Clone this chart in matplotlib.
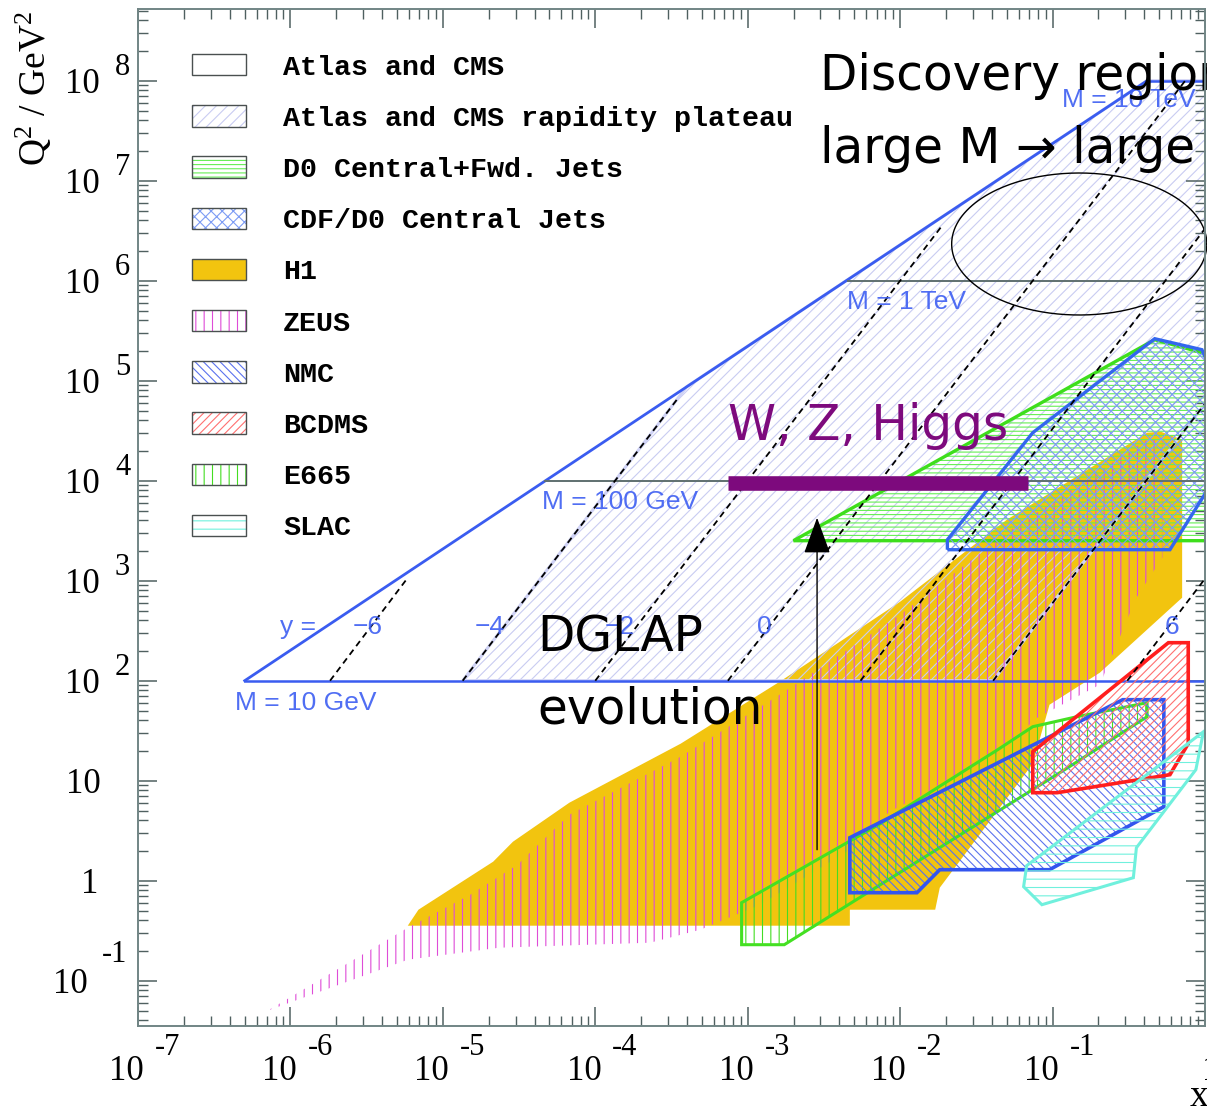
import numpy as np
import matplotlib
matplotlib.use("Agg")
import matplotlib.pyplot as plt
from matplotlib.patches import Polygon, Patch
from matplotlib.ticker import LogLocator, NullFormatter
from matplotlib.transforms import ScaledTranslation, blended_transform_factory

plt.rcParams["hatch.linewidth"] = 0.8
plt.rcParams["mathtext.fontset"] = "custom"
plt.rcParams["mathtext.rm"] = "Liberation Serif"
plt.rcParams["mathtext.it"] = "Liberation Serif:italic"

# ---------------- data (corner points as decade exponents: log10 x, log10 Q^2) -------------
H1_LX = [-5.23, -5.16, -4.67, -4.54, -4.17, -3.44, -2.79, -2.00, -1.30, -0.38, -0.29, -0.15,
         -0.15, -0.69, -1.02, -1.13, -1.74, -1.77, -2.33, -2.33]
H1_LQ = [-0.45, -0.29, 0.19, 0.39, 0.78, 1.37, 1.99, 2.79, 3.61, 4.48, 4.49, 4.41,
         2.83, 2.08, 1.76, 1.17, -0.07, -0.29, -0.29, -0.45]

ZEUS_LX = [-6.15, -5.23, -4.82, -4.51, -4.17, -3.44, -2.79, -2.00, -1.30, -0.38, -0.28, -0.28,
           -0.45, -0.69, -1.10, -1.41, -2.07, -2.33, -2.92, -3.31, -3.64, -4.63, -5.23]
ZEUS_LQ = [-1.30, -0.47, -0.14, 0.16, 0.66, 1.24, 1.86, 2.66, 3.48, 4.41, 4.41, 3.23,
           2.83, 1.96, 1.63, 1.21, 0.69, 0.31, -0.24, -0.49, -0.62, -0.67, -0.79]

E665_LX = [-3.04, -3.04, -2.13, -1.36, -1.13, -0.84, -0.38, -0.38, -0.90, -2.13, -2.76]
E665_LQ = [-0.64, -0.22, 0.57, 1.31, 1.54, 1.64, 1.78, 1.64, 1.13, -0.04, -0.64]

NMC_LX = [-2.33, -2.33, -1.89, -1.74, -1.02, -0.27, -0.27, -0.54]
NMC_LQ = [0.43, -0.12, -0.12, 0.11, 0.11, 0.74, 1.81, 1.81]

BCDMS_LX = [-1.13, -1.13, -0.97, -0.23, -0.11, -0.11, -0.24]
BCDMS_LQ = [1.29, 0.88, 0.88, 1.06, 1.37, 2.38, 2.38]

SLAC_LX = [-1.17, -1.19, -1.07, -0.47, -0.45, -0.06, -0.01]
SLAC_LQ = [0.15, -0.06, -0.24, 0.03, 0.33, 1.11, 1.49]

CDF_LX = [-1.69, -1.69, -1.13, -0.33, -0.02, 0.03, 0.03, -0.23]
CDF_LQ = [3.31, 3.41, 4.48, 5.42, 5.31, 5.13, 3.94, 3.31]

D0_LX = [-2.70, -0.33, 0.03, 0.03]
D0_LQ = [3.40, 5.41, 5.26, 3.40]

PLATEAU_LX = [-4.87, -3.40, -0.38, 0.05, 0.05, -1.39]
PLATEAU_LQ = [2.0, 4.94, 8.0, 8.0, 4.87, 2.0]

DIAG_LX = [-6.30, -0.38]
DIAG_LQ = [2.0, 8.0]

M_LQ = [2.0, 4.0, 6.0, 8.0]
M_LX0 = [-6.30, -4.33, -2.34, -0.38]
M_LABELS = ["M = 10 GeV", "M = 100 GeV", "M = 1 TeV", "M = 10 TeV"]
M_LABEL_LX = [-5.90, -3.84, -1.96, -0.50]
M_LABEL_LQ = [1.78, 3.79, 5.79, 7.81]

RAP_VALUES = ["\u22126", "\u22124", "\u22122", "0", "2", "4", "6"]
RAP_LX0 = [-5.74, -4.87, -4.00, -3.13, -2.26, -1.39, -0.51]
RAP_LX1 = [-5.23, -3.46, -1.72, -0.13, 0.0, 0.0, 0.0]
RAP_LQ1 = [3.03, 4.82, 6.56, 8.0, 6.52, 4.77, 3.02]
RAP_LABEL_LX = [-5.49, -4.69, -3.84, -2.89, -2.01, -1.12, -0.215]
RAP_LABEL_LQ = 2.54

WZH_LX = [-3.13, -1.16]
WZH_LQ = 3.98
ARROW_LX = -2.545
ARROW_LQ = [0.31, 3.63]
ELLIPSE_CENTER = (-0.825, 6.367)
ELLIPSE_SEMI = (0.837, 0.71)

X_DECADES = [-7, -6, -5, -4, -3, -2, -1]
Y_DECADES = [-1, 0, 1, 2, 3, 4, 5, 6, 7, 8]

LEGEND_LABELS = ["Atlas and CMS", "Atlas and CMS rapidity plateau", "D0 Central+Fwd. Jets",
                 "CDF/D0 Central Jets", "H1", "ZEUS", "NMC", "BCDMS", "E665", "SLAC"]

# ---------------- styles ----------------
BLUE = "#3a5cf0"
GREEN = "#3ede1c"
PLAT_C = "#c9ccf2"
ZEUS_C = "#de4cd8"
H1_C = "#f2c40f"
CDF_H = "#7d9cf4"
# label: (face, hatch colour, hatch, alpha)
LEGEND_STYLE = [
    ("white", "white", None, 1.0),
    ("white", PLAT_C, "///", 1.0),
    ("white", "#66ee55", "----", 1.0),
    ("white", CDF_H, "xxx", 1.0),
    (H1_C, H1_C, None, 1.0),
    ("white", ZEUS_C, "||", 1.0),
    ("white", "#5a72ee", "\\\\\\\\", 1.0),
    ("white", "#ff7070", "////", 1.0),
    ("white", "#44dd22", "||", 1.0),
    ("white", "#70f0dd", "--", 1.0),
]

W, H = 1207, 1110
fig = plt.figure(figsize=(W / 100, H / 100), dpi=100)
ax = fig.add_axes([138 / W, 1 - 1026 / H, (1205 - 138) / W, (1026 - 9) / H])
ax.set_xscale("log")
ax.set_yscale("log")
ax.set_xlim(1e-7, 1)
ax.set_ylim(10 ** -1.453, 10 ** 8.717)


def pts(lx, lq):
    return np.column_stack([10.0 ** np.asarray(lx, float), 10.0 ** np.asarray(lq, float)])


def region(lx, lq, face, hcol, hatch, edge=None, lw=2.0, z=2, alpha=1.0):
    xy = pts(lx, lq)
    ax.add_patch(Polygon(xy, closed=True, facecolor=face, edgecolor=hcol, hatch=hatch,
                         linewidth=0, zorder=z, alpha=alpha))
    if edge is not None:
        ax.add_patch(Polygon(xy, closed=True, facecolor="none", edgecolor=edge,
                             linewidth=lw, zorder=z + 0.05))


# H1 and ZEUS
region(H1_LX, H1_LQ, H1_C, H1_C, None, z=1)
# rapidity plateau (hatched, lavender edges)
region(PLATEAU_LX, PLATEAU_LQ, "none", PLAT_C, "///", edge="#cfd2f5", lw=2.2, z=1.5)
region(ZEUS_LX, ZEUS_LQ, "none", ZEUS_C, "||", z=2, alpha=1.0)
# Tevatron jets
region(D0_LX, D0_LQ, "none", "#66ee55", "----", edge=GREEN, lw=2.4, z=3)
region(CDF_LX, CDF_LQ, "none", CDF_H, "xxx", edge="#3366ee", lw=2.4, z=3.2)

# kinematic limit lines of LHC
ax.plot(10.0 ** np.array(DIAG_LX), 10.0 ** np.array(DIAG_LQ), color=BLUE, lw=2.0, zorder=4)
for lq, lx0 in zip(M_LQ, M_LX0):
    col = BLUE if lq in (2.0, 8.0) else "#5f7070"
    ax.plot([10 ** lx0, 10 ** 0.05], [10 ** lq, 10 ** lq], color=col,
            lw=1.8 if col == BLUE else 1.4, zorder=4)

# fixed-target regions
region(E665_LX, E665_LQ, "none", "#44dd22", "||", edge="#44e022", lw=2.2, z=5)
region(NMC_LX, NMC_LQ, "none", "#5a72ee", "\\\\\\\\", edge="#3355ee", lw=2.6, z=5.1)
region(BCDMS_LX, BCDMS_LQ, "none", "#ff7070", "////", edge="#ff1e1e", lw=2.6, z=5.2)
region(SLAC_LX, SLAC_LQ, "none", "#70f0dd", "--", edge="#70f0dd", lw=2.2, z=5.3)

# rapidity lines
for x0, x1, q1 in zip(RAP_LX0, RAP_LX1, RAP_LQ1):
    ax.plot([10 ** x0, 10 ** x1], [1e2, 10 ** q1], color="black", lw=1.3,
            ls=(0, (3.5, 2.5)), zorder=6)

# blue labels
lab_kw = dict(family="Liberation Sans", fontsize=19, color="#3d5ef2", ha="center",
              va="center", alpha=0.9)
for t, lx, lq in zip(M_LABELS, M_LABEL_LX, M_LABEL_LQ):
    ax.text(10 ** lx, 10 ** lq, t, zorder=6.5, **lab_kw)
ax.text(10 ** -5.95, 10 ** RAP_LABEL_LQ, "y =", zorder=6.5, **lab_kw)
for t, lx in zip(RAP_VALUES, RAP_LABEL_LX):
    z = 0.5 if t in ("2", "4") else 6.5
    ax.text(10 ** lx, 10 ** RAP_LABEL_LQ, t, zorder=z, **lab_kw)

# ellipse for discovery region
tt = np.linspace(0, 2 * np.pi, 300)
ax.plot(10 ** (ELLIPSE_CENTER[0] + ELLIPSE_SEMI[0] * np.cos(tt)),
        10 ** (ELLIPSE_CENTER[1] + ELLIPSE_SEMI[1] * np.sin(tt)),
        color="black", lw=1.0, zorder=7, clip_on=False)

# W, Z, Higgs bar and DGLAP arrow
ax.plot([10 ** WZH_LX[0], 10 ** WZH_LX[1]], [10 ** WZH_LQ] * 2, color="#7d0a7d",
        lw=10.5, solid_capstyle="butt", zorder=7)
ax.annotate("", xy=(10 ** ARROW_LX, 10 ** ARROW_LQ[1]), xytext=(10 ** ARROW_LX, 10 ** ARROW_LQ[0]),
            arrowprops=dict(arrowstyle="-|>,head_length=1.15,head_width=0.42", mutation_scale=20,
                            color="black", lw=1.0, shrinkA=0, shrinkB=0), zorder=7)

big = dict(family="DejaVu Sans", fontsize=35, ha="left", va="baseline", zorder=8)
ax.text(10 ** -2.525, 10 ** 7.907, "Discovery region", color="black", clip_on=False, **big)
ax.text(10 ** -2.525, 10 ** 7.177, "large M \u2192 large x", color="black", clip_on=False, **big)
ax.text(10 ** -3.129, 10 ** 4.407, "W, Z, Higgs", color="#7d0a7d", **big)
ax.text(10 ** -4.382, 10 ** 2.287, "DGLAP", color="black", **big)
ax.text(10 ** -4.382, 10 ** 1.567, "evolution", color="black", **big)

# axes styling
for axis in (ax.xaxis, ax.yaxis):
    axis.set_major_locator(LogLocator(base=10, numticks=40))
    axis.set_minor_locator(LogLocator(base=10, subs=np.arange(2, 10), numticks=400))
    axis.set_major_formatter(NullFormatter())
    axis.set_minor_formatter(NullFormatter())
ax.tick_params(which="both", direction="in", top=True, right=True, color="#4f6060")
ax.tick_params(which="major", length=13.5, width=1.1)
ax.tick_params(which="minor", length=7, width=1.0)
for s in ax.spines.values():
    s.set_color("#718585")
    s.set_linewidth(1.4)
    s.set_zorder(9)


def pix(dx, dy):
    return ScaledTranslation(dx / 100, -dy / 100, fig.dpi_scale_trans)


bx = blended_transform_factory(ax.transData, ax.transAxes)
by = blended_transform_factory(ax.transAxes, ax.transData)
serif = "Liberation Serif"
FS, FSS = 25, 22
for e in X_DECADES:
    ax.text(10.0 ** e, 0, "10", transform=bx + pix(6, 54), ha="right", va="baseline",
            fontsize=FS, family=serif)
    ax.text(10.0 ** e, 0, str(e), transform=bx + pix(17, 29), ha="left", va="baseline",
            fontsize=FSS, family=serif)
ax.text(1.0, 0, "1", transform=bx + pix(-3, 54), ha="left", va="baseline", fontsize=FS, family=serif)

for e in Y_DECADES:
    y = 10.0 ** e
    if e == 0:
        ax.text(0, y, "1", transform=by + pix(-40, 12), ha="right", va="baseline", fontsize=FS, family=serif)
    elif e == 1:
        ax.text(0, y, "10", transform=by + pix(-37, 12), ha="right", va="baseline", fontsize=FS, family=serif)
    elif e == -1:
        ax.text(0, y, "10", transform=by + pix(-50, 12), ha="right", va="baseline", fontsize=FS, family=serif)
        ax.text(0, y, "-1", transform=by + pix(-36, -19), ha="left", va="baseline", fontsize=FSS, family=serif)
    else:
        ax.text(0, y, "10", transform=by + pix(-38, 12), ha="right", va="baseline", fontsize=FS, family=serif)
        ax.text(0, y, str(e), transform=by + pix(-23, -6), ha="left", va="baseline", fontsize=FSS, family=serif)

fig.text(34 / W, 1 - 88 / H, r"Q$^{2}$ / GeV$^{2}$", rotation=90, ha="center", va="center",
         fontsize=27, family=serif)
fig.text(1190 / W, 1 - 1106 / H, "x", ha="left", va="baseline", fontsize=27, family=serif)

# legend
handles = []
for face, hcol, hatch, alpha in LEGEND_STYLE:
    hp = Patch(facecolor=face, edgecolor=hcol, hatch=hatch, linewidth=0, alpha=alpha)
    op = Patch(facecolor="none", edgecolor="#4a5050", linewidth=1.0)
    handles.append((hp, op))
leg = ax.legend(handles, LEGEND_LABELS, loc="upper left",
                bbox_to_anchor=((192 - 138) / 1067, 1 - (54 - 9) / 1017),
                frameon=False, borderpad=0, borderaxespad=0,
                prop=dict(family="Liberation Mono", weight="bold", size=20.4),
                handlelength=1.91, handleheight=0.79, handletextpad=1.3, labelspacing=0.868)
leg.set_zorder(10)

fig.savefig("out.png", dpi=100)
